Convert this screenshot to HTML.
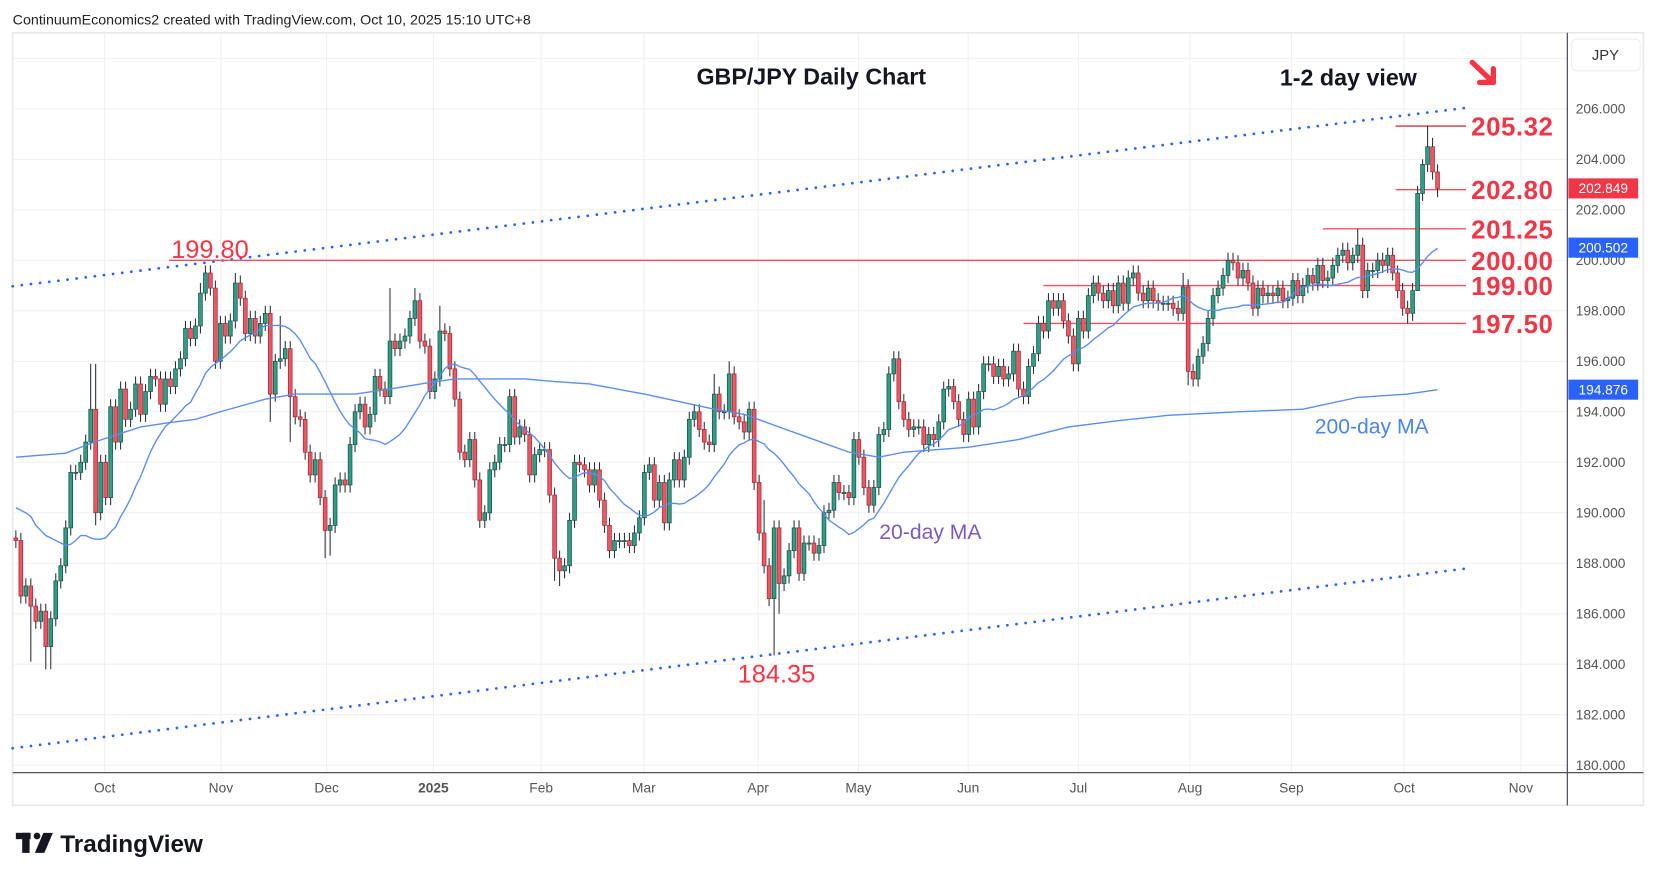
<!DOCTYPE html>
<html><head><meta charset="utf-8"><style>
html,body{margin:0;padding:0;background:#fff;}
svg{display:block;font-family:"Liberation Sans",sans-serif;}
</style></head><body>
<svg id="chart" width="1654" height="879" viewBox="0 0 1565 831.7" preserveAspectRatio="none" xmlns="http://www.w3.org/2000/svg">
<rect x="0" y="0" width="1565" height="831.7" fill="#fff"/>
<text x="12" y="23" font-size="13.5" fill="#222">ContinuumEconomics2 created with TradingView.com, Oct 10, 2025 15:10 UTC+8</text>
<rect x="12" y="31" width="1543" height="731" fill="none" stroke="#e6e8ec" stroke-width="1.5"/>
<g id="grid"></g>
<g id="overlays"></g>
<g id="candles"></g>
<g id="mas"></g>
<line x1="1483" y1="31" x2="1483" y2="762" stroke="#50535e" stroke-width="1.2"/>
<line x1="12" y1="731" x2="1555" y2="731" stroke="#50535e" stroke-width="1.2"/>
<g id="yaxis"></g>
<g id="xaxis"></g>
<rect x="1487" y="37" width="65" height="30" rx="5" fill="#fff" stroke="#eceef2"/>
<text x="1519" y="57" font-size="14" fill="#333" text-anchor="middle">JPY</text>
<text x="659" y="80" font-size="22" font-weight="bold" fill="#131722">GBP/JPY Daily Chart</text>
<text x="1211" y="81" font-size="22" font-weight="bold" fill="#131722">1-2 day view</text>
<g stroke="#f23645" stroke-width="5" stroke-linecap="round" fill="none">
<line x1="1393" y1="59" x2="1413" y2="78"/><line x1="1413" y1="78" x2="1413" y2="65"/><line x1="1413" y1="78" x2="1400" y2="78"/>
</g>
<text x="832" y="510" font-size="20" fill="#7e57c2">20-day MA</text>
<text x="1244" y="410" font-size="20" fill="#4a86e8">200-day MA</text>
<g>
<rect x="15" y="788" width="14" height="6" fill="#131722"/><rect x="21" y="788" width="7" height="19" fill="#131722"/>
<circle cx="35" cy="791" r="3.2" fill="#131722"/><polygon points="41,788 50,788 42,807 33,807" fill="#131722"/>
<text x="57" y="806" font-size="23" font-weight="bold" fill="#131722">TradingView</text>
</g>
</svg>
<script>
const closes=[188.9,186.7,187.1,186.3,185.7,186.1,184.7,185.8,187.3,187.9,
189.4,191.6,191.6,192.0,192.8,194.1,190.0,192.0,190.6,194.2,
192.8,194.9,193.7,194.1,195.1,193.9,194.8,195.4,195.3,194.3,
195.3,195.0,195.7,196.1,197.3,196.9,197.4,198.7,199.5,198.9,
196.0,197.5,197.0,197.6,199.1,198.5,197.1,197.7,197.0,197.5,
197.9,194.7,196.0,196.1,196.5,194.6,193.8,193.7,192.4,191.5,
192.1,190.6,189.3,189.5,191.1,191.3,191.1,192.7,194.0,194.3,
193.4,193.9,195.4,194.9,194.6,196.8,196.5,196.8,197.0,197.7,
198.4,196.8,196.6,194.8,195.3,197.2,197.1,195.7,194.5,192.4,
192.1,192.9,191.3,189.7,190.0,191.7,192.0,192.7,192.7,194.6,
193.0,193.4,193.1,191.5,192.3,192.5,192.5,190.7,188.2,187.7,
187.9,189.7,192.0,191.9,191.7,191.1,191.7,190.5,189.5,188.5,
188.9,188.9,188.9,188.7,189.2,189.8,191.6,191.9,190.5,191.2,
189.6,191.3,192.1,191.3,192.2,193.7,194.0,193.3,192.8,192.7,
194.7,194.0,194.0,195.5,193.8,193.6,193.2,194.1,191.2,189.2,
187.9,186.6,189.4,187.2,187.5,188.5,189.4,187.6,188.8,188.8,
188.4,188.7,190.0,190.1,191.2,190.8,190.8,190.6,192.9,192.2,
191.0,190.3,191.0,193.1,193.3,195.5,196.1,194.4,193.7,193.3,
193.4,193.4,192.7,193.1,192.9,193.6,194.9,195.0,194.4,193.7,
193.1,194.5,193.4,194.8,195.9,195.9,195.4,195.8,195.3,195.5,
196.4,194.9,194.6,195.8,196.3,197.5,197.2,198.4,198.1,198.4,
197.6,197.0,195.9,197.7,197.2,198.6,199.1,198.7,198.4,198.8,
198.2,199.1,198.3,199.3,199.5,198.7,198.4,198.9,198.4,198.3,
198.3,198.3,198.1,197.9,198.95,195.6,195.3,196.2,196.7,197.7,
198.6,198.9,199.4,200.0,199.9,199.3,199.6,199.1,198.1,198.9,
198.6,198.7,198.6,198.9,198.4,198.5,199.2,198.6,199.0,199.4,
199.1,199.8,199.2,199.3,199.8,200.2,200.4,199.9,200.2,200.6,
198.8,199.6,199.6,200.0,199.8,200.2,199.5,198.8,198.1,197.9,
198.8,202.65,203.8,204.5,203.5,202.849];
const firstOpen=189.0;
const highMarks={15:195.9,16:195.9,37:199.1,38:199.8,44:199.5,53:197.8,75:198.9,80:198.9,85:198.2,140:195.5,143:196.0,150:190.5,152:189.7,234:199.5,269:201.25,282:204.0,283:205.32,284:204.85};
const lowMarks={3:184.1,6:183.8,7:183.8,16:189.5,51:193.6,55:192.8,62:188.2,63:188.3,108:187.3,109:187.1,152:184.35,153:186.0,235:195.05,236:195.0,279:197.5,281:200.2,285:202.5};
const ma20Head=[190.2,190.1,190.0,189.85,189.5,189.3,189.1,189.0,188.9,188.8,188.7,188.75,188.9,189.1,189.1,189.0,188.95,188.95,189.0];
const ma200Bars=[0,10,15,20,25,30,36,41,50,56,68,75,83,88,102,108,115,126,140,146,153,160,167,173,178,191,201,211,221,231,245,258,269,279,285];
const ma200Vals=[192.2,192.36,192.75,193.08,193.4,193.55,193.7,194.0,194.5,194.7,194.7,194.9,195.16,195.3,195.3,195.2,195.1,194.7,194.1,193.9,193.4,192.9,192.4,192.2,192.4,192.6,192.9,193.4,193.65,193.86,194.0,194.1,194.57,194.7,194.876];
const yTicks=[180,182,184,186,188,190,192,194,196,198,200,202,204,206,208];
const monthLabels=["Oct","Nov","Dec","2025","Feb","Mar","Apr","May","Jun","Jul","Aug","Sep","Oct","Nov"];
const monthBars=[17.8,41.1,62.3,83.7,105.3,125.9,148.8,168.9,190.9,213,235.4,255.7,278.3,301.7];
const levelVals=[205.32,202.80,201.25,200.00,199.00,197.50];
const levelStart=[276.6,276.6,262,30.7,206,202];
const levelText=["205.32","202.80","201.25","200.00","199.00","197.50"];
const channelUpper=[198.97,206.04];
const channelLower=[180.67,187.79];
const channelBars=[-0.64,290.7];
const badgeVals=[202.849,200.502,194.876];
const badgeColors=["#f23645","#2962ff","#2962ff"];

const NS="http://www.w3.org/2000/svg";
const X=i=>15+i*4.72;
const Y=p=>103+(206-p)*23.885;
function mk(tag,attrs,parent){const e=document.createElementNS(NS,tag);for(const k in attrs)e.setAttribute(k,attrs[k]);parent.appendChild(e);return e;}

const grid=document.getElementById('grid');
yTicks.forEach(t=>{const l=mk('line',{x1:12,x2:1483,y1:Y(t),y2:Y(t),stroke:'#edf0f4','stroke-width':1},grid);

});
monthBars.forEach(b=>{const l=mk('line',{x1:X(b),x2:X(b),y1:31,y2:731,stroke:'#edf0f4','stroke-width':1},grid);

});

const yax=document.getElementById('yaxis');
yTicks.forEach(t=>{if(t>206)return;const tx=mk('text',{x:1491,y:Y(t)+4.5,'font-size':13,fill:'#555'},yax);tx.textContent=t.toFixed(3);

});
const xax=document.getElementById('xaxis');
monthLabels.forEach((m,k)=>{const tx=mk('text',{x:X(monthBars[k]),y:750,'font-size':13,fill:'#555','text-anchor':'middle','font-weight':m==='2025'?'bold':'normal'},xax);tx.textContent=m;

});

const ov=document.getElementById('overlays');
[channelUpper,channelLower].forEach((c,k)=>{const l=mk('line',{x1:X(channelBars[0]),y1:Y(c[0]),x2:X(channelBars[1]),y2:Y(c[1]),stroke:'#2962ff','stroke-width':2.6,'stroke-dasharray':'0.1 8.6','stroke-linecap':'round'},ov);

});
levelVals.forEach((v,k)=>{const l=mk('line',{x1:X(levelStart[k]),x2:X(channelBars[1]),y1:Y(v),y2:Y(v),stroke:k===0?'#d9323f':'#f4505c','stroke-width':1.3},ov);


const t=mk('text',{x:1392,y:Y(v)+9,'font-size':24.5,'font-weight':'bold',fill:'#f23645','letter-spacing':0.5},ov);t.textContent=levelText[k];

});
const t1=mk('text',{x:162,y:244,'font-size':24,fill:'#f23645'},ov);t1.textContent='199.80';


const t2=mk('text',{x:698,y:646,'font-size':24,fill:'#f23645'},ov);t2.textContent='184.35';



const mas=document.getElementById('mas');
const ma20=[];
for(let i=0;i<closes.length;i++){if(i<ma20Head.length){ma20.push(ma20Head[i]);}else{let s=0;const a=Math.max(0,i-19);for(let j=a;j<=i;j++)s+=closes[j];ma20.push(s/(i-a+1));}}
let d20=ma20.map((v,i)=>(i?'L':'M')+X(i).toFixed(1)+','+Y(v).toFixed(1)).join(' ');
const p20=mk('path',{d:d20,fill:'none',stroke:'#5b8def','stroke-width':1.3},mas);


let d200=ma200Bars.map((b,k)=>(k?'L':'M')+X(b).toFixed(1)+','+Y(ma200Vals[k]).toFixed(1)).join(' ');
const p200=mk('path',{d:d200,fill:'none',stroke:'#5b8def','stroke-width':1.3,'stroke-linejoin':'round'},mas);



const cg=document.getElementById('candles');
for(let i=0;i<closes.length;i++){
  const o=i?closes[i-1]:firstOpen,c=closes[i];
  const hi=(i in highMarks)?highMarks[i]:Math.max(o,c)+0.3;
  const lo=(i in lowMarks)?lowMarks[i]:Math.min(o,c)-0.3;
  const up=c>=o;const x=X(i);
  const g=mk('g',{},cg);
  
  
  mk('line',{x1:x,x2:x,y1:Y(hi),y2:Y(lo),stroke:'#2a2e39','stroke-width':1},g);
  const top=Y(Math.max(o,c)),h=Math.max(1,Math.abs(Y(o)-Y(c)));
  mk('rect',{x:x-1.8,y:top,width:3.6,height:h,fill:up?'#2f9e86':'#ef5562',stroke:up?'#1e4f44':'#9a2e38','stroke-width':0.7},g);
}
badgeVals.forEach((v,k)=>{const r=mk('rect',{x:1484,y:Y(v)-9.5,width:66,height:19,fill:badgeColors[k]},yax);


const t=mk('text',{x:1517,y:Y(v)+4.5,'font-size':13,fill:'#fff','text-anchor':'middle'},yax);t.textContent=v.toFixed(3);});
</script>
</body></html>
